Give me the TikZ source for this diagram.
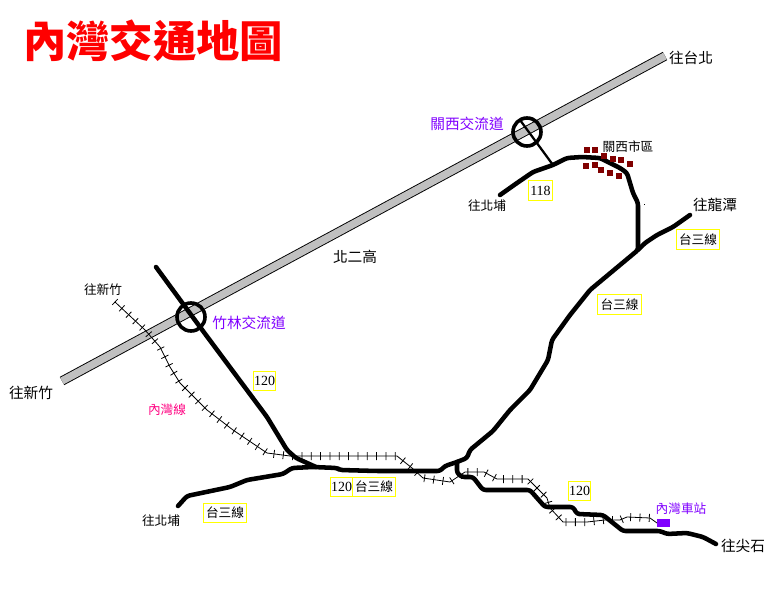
\documentclass[tikz,border=0pt]{standalone}
\usepackage{fontspec}
\usepackage{xcolor}
\usepackage{tikz}
\usetikzlibrary{decorations.pathreplacing}
\setmainfont{Liberation Serif}
\newfontfamily\cjk{Noto Sans CJK TC}
\definecolor{signyellow}{HTML}{FFFF00}
\definecolor{purpletxt}{HTML}{8000FF}
\definecolor{pinktxt}{HTML}{FF0080}
\definecolor{dotred}{HTML}{800000}
\definecolor{freeway}{HTML}{C0C0C0}
\newcommand{\railroute}{(115,302) -- (130,316) -- (145,330) -- (160,347) -- (170,367) -- (180,383) -- (207,410) -- (233,430) -- (267,453) -- (290,456) -- (397,456) -- (412,468) -- (423,478) -- (450,482) -- (465,472) -- (484,472) -- (497,479) -- (528,479) -- (547,498) -- (550,508) -- (563,522) -- (587,522) -- (605,520) -- (620,520) -- (627,517) -- (650,518) -- (657,523)}

\begin{document}
\begin{tikzpicture}[x=0.75pt, y=-0.75pt]
\tikzstyle{place} = [inner sep=0pt, font=\cjk\fontsize{11pt}{12pt}\selectfont]
\tikzstyle{small} = [inner sep=0pt, font=\cjk\fontsize{9.5pt}{12pt}\selectfont]
\tikzstyle{inter} = [place, text=purpletxt]
\tikzstyle{sign} = [rectangle, draw=signyellow, line width=0.9pt, fill=white, inner sep=0pt, minimum height=14.5pt, font=\cjk\fontsize{9.5pt}{12pt}\selectfont]
\tikzstyle{roadnum} = [sign, minimum width=17pt, font=\fontsize{10.5pt}{12pt}\selectfont]
\tikzstyle{roadname} = [sign, minimum width=32.5pt]
\tikzstyle{road} = [line width=3.4pt, line join=round, line cap=round, rounded corners=2pt]
\tikzstyle{ramp} = [line width=1.7pt]
\tikzstyle{ring} = [circle, draw=black, line width=2.7pt, minimum size=21pt, inner sep=0pt]
\tikzstyle{rail} = [line width=0.6pt, line join=round]
\tikzstyle{railties} = [line width=0.6pt, decorate, decoration={ticks, segment length=7pt, amplitude=3pt}]
\tikzstyle{town} = [rectangle, fill=dotred, minimum size=3.9pt, inner sep=0pt]

\useasboundingbox (0,0) rectangle (771,598);

\coordinate (hwyW) at (62,381);
\coordinate (hwyE) at (665,56);
\draw[line width=7pt, black] (hwyW) -- (hwyE);
\draw[line width=5.6pt, freeway] (hwyW) -- (hwyE);

\draw[rail] \railroute;
\draw[railties] \railroute;

\draw[road] (156,267) -- (200,327) -- (267,417) -- (287,450) -- (296,458) -- (316,467);
\draw[road] (178,506) -- (187,496) -- (230,487) -- (247,480) -- (265,477) -- (283,474) -- (292,468) -- (313,467) -- (337,468) -- (340,470) -- (377,471) -- (440,471) -- (445,466) -- (457,462) -- (467,458) -- (470,450) -- (493,431) -- (510,410) -- (530,390) -- (548,360) -- (552,340) -- (570,315) -- (590,290) -- (620,265) -- (638,250) -- (638,203) -- (633,193) -- (627,173) -- (620,168) -- (600,158) -- (582,157) -- (567,158) -- (553,165) -- (533,172) -- (517,183) -- (500,195);
\draw[road] (638,250) -- (645,243) -- (657,235) -- (673,227) -- (690,215);
\draw[road] (457,462) -- (457,473) -- (462,477) -- (473,477) -- (483,490) -- (530,490) -- (537,498) -- (545,507) -- (573,507) -- (577,514) -- (603,515) -- (623,531) -- (660,531) -- (667,534) -- (687,533) -- (703,537) -- (716,544);

\node[ring] (jctGuanxi) at (527,132) {};
\node[ring] (jctZhulin) at (191,317) {};
\coordinate (rampEnd) at (553,165);
\draw[ramp] (520,120) -- (rampEnd);

\foreach \dotx/\doty in {587/150, 595/150, 604/156, 613/159, 621/160, 630/164, 586/166, 595/165, 601/170, 610/173, 619/176}
  \node[town] at (\dotx,\doty) {};
\fill (644,204) rectangle (645,205);

\node[rectangle, fill=purpletxt, minimum width=9.8pt, minimum height=6pt, inner sep=0pt] (station) at (663.5,523) {};

\node[inner sep=0pt, text=red, font=\cjk\bfseries\fontsize{32.5pt}{34pt}\selectfont] (title) at (153,41) {內灣交通地圖};

\node[place] (toTaipei) at (691,58) {往台北};
\node[inter] (lblGuanxi) at (467,124) {關西交流道};
\node[small] (lblCity) at (628,147) {關西市區};
\node[small] (toBeipuN) at (487,206) {往北埔};
\node[place] (toLongtan) at (715,205) {往龍潭};
\node[place] (lblFwy) at (355,257) {北二高};
\node[small] (toHsinchuN) at (103,290) {往新竹};
\node[inter] (lblZhulin) at (249,323) {竹林交流道};
\node[place] (toHsinchuW) at (31,393) {往新竹};
\node[small, text=pinktxt] (lblRail) at (167,410) {內灣線};
\node[small] (toBeipuS) at (161,521) {往北埔};
\node[small, text=purpletxt] (lblStation) at (681,509) {內灣車站};
\node[place] (toJianshi) at (743,546) {往尖石};

\node[roadnum, minimum width=18.5pt] (r118) at (540.5,190.5) {118};
\node[roadnum] (r120a) at (264.5,381) {120};
\node[roadnum] (r120b) at (341.5,487) {120};
\node[roadnum] (r120c) at (579.5,491) {120};
\node[roadname] (t3a) at (698,239.5) {台三線};
\node[roadname] (t3b) at (619.5,304.5) {台三線};
\node[roadname] (t3c) at (225,513) {台三線};
\node[roadname] (t3d) at (374,487) {台三線};
\end{tikzpicture}
\end{document}
